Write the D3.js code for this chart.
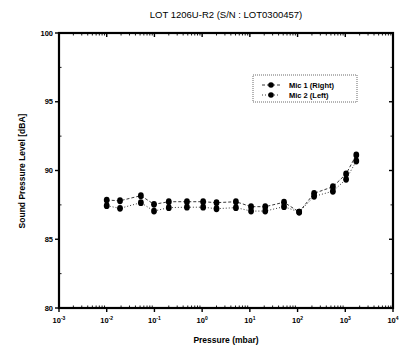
<!DOCTYPE html>
<html>
<head>
<meta charset="utf-8">
<script src="https://cdn.jsdelivr.net/npm/d3@7"></script>
<style>
  html, body { margin: 0; padding: 0; background: #fff; }
  svg { display: block; }
  text { font-family: Arial, "Liberation Sans", sans-serif; fill: #000; }
</style>
</head>
<body>
<svg id="chart" width="403" height="352"></svg>
<script>
// Pressure sweep (mbar) and measured SPL for both microphones (dBA)
const pressure = [0.01, 0.019, 0.052, 0.098, 0.2, 0.48, 1.05, 2.0, 5.1, 10.6, 21, 52, 108, 222, 550, 1040, 1700];
const mic1 = [87.85, 87.8, 88.17, 87.54, 87.73, 87.73, 87.73, 87.66, 87.73, 87.37, 87.37, 87.69, 86.98, 88.34, 88.82, 89.75, 91.13];
const mic2 = [87.44, 87.25, 87.66, 87.05, 87.3, 87.33, 87.33, 87.22, 87.3, 87.05, 87.05, 87.37, 86.98, 88.12, 88.49, 89.36, 90.69];
const seriesNames = ["Mic 1 (Right)", "Mic 2 (Left)"];
const xExponents = [-3, -2, -1, 0, 1, 2, 3, 4];
const yTicks = [80, 85, 90, 95, 100];
const yMinor = [82.5, 87.5, 92.5, 97.5];

const svg = d3.select("#chart");
const L = 59, R = 393, T = 33, B = 308;

const x = d3.scaleLog().domain([1e-3, 1e4]).range([L, R]);
const y = d3.scaleLinear().domain([80, 100]).range([B, T]);

// Minor ticks on the log axis: 2..9 within each decade
const xMinor = [];
for (let e = -3; e < 4; e++) for (let k = 2; k <= 9; k++) xMinor.push(k * Math.pow(10, e));

const g = svg.append("g");

// Frame lines
g.append("rect").attr("x", L).attr("y", T).attr("width", R - L).attr("height", B - T)
  .attr("fill", "none").attr("stroke", "#000").attr("stroke-width", 2.2);

// Bottom ticks (outward)
g.selectAll(".xb").data(xExponents).join("line")
  .attr("x1", d => x(Math.pow(10, d))).attr("x2", d => x(Math.pow(10, d)))
  .attr("y1", B).attr("y2", B + 4).attr("stroke", "#000").attr("stroke-width", 1.4);
g.selectAll(".xbm").data(xMinor).join("line")
  .attr("x1", d => x(d)).attr("x2", d => x(d))
  .attr("y1", B).attr("y2", B - 2.5).attr("stroke", "#000").attr("stroke-width", 0.9);
// Top ticks (inward)
g.selectAll(".xt").data(xExponents).join("line")
  .attr("x1", d => x(Math.pow(10, d))).attr("x2", d => x(Math.pow(10, d)))
  .attr("y1", T).attr("y2", T + 4).attr("stroke", "#000").attr("stroke-width", 1.4);
g.selectAll(".xtm").data(xMinor).join("line")
  .attr("x1", d => x(d)).attr("x2", d => x(d))
  .attr("y1", T).attr("y2", T + 2.5).attr("stroke", "#000").attr("stroke-width", 0.9);

// Left ticks (outward) and right ticks (inward)
g.selectAll(".yl").data(yTicks).join("line")
  .attr("x1", L - 4).attr("x2", L).attr("y1", d => y(d)).attr("y2", d => y(d))
  .attr("stroke", "#000").attr("stroke-width", 1.4);
g.selectAll(".ylm").data(yMinor).join("line")
  .attr("x1", L).attr("x2", L + 2.5).attr("y1", d => y(d)).attr("y2", d => y(d))
  .attr("stroke", "#000").attr("stroke-width", 0.9);
g.selectAll(".yr").data(yTicks).join("line")
  .attr("x1", R - 4).attr("x2", R).attr("y1", d => y(d)).attr("y2", d => y(d))
  .attr("stroke", "#000").attr("stroke-width", 1.4);
g.selectAll(".yrm").data(yMinor).join("line")
  .attr("x1", R - 2.5).attr("x2", R).attr("y1", d => y(d)).attr("y2", d => y(d))
  .attr("stroke", "#000").attr("stroke-width", 0.9);

// Tick labels
const xl = g.selectAll(".xlab").data(xExponents).join("text")
  .attr("x", d => x(Math.pow(10, d))).attr("y", B + 15)
  .attr("text-anchor", "middle").attr("font-size", 7.5).attr("font-weight", "bold");
xl.append("tspan").text("10");
xl.append("tspan").attr("dy", -3.5).attr("font-size", 5).text(d => d);

g.selectAll(".ylab").data(yTicks).join("text")
  .attr("x", L - 6).attr("y", d => y(d) + 2.5)
  .attr("text-anchor", "end").attr("font-size", 7.5).attr("font-weight", "bold")
  .text(d => d);

// Title and axis titles
svg.append("text").attr("x", 226).attr("y", 18).attr("text-anchor", "middle")
  .attr("font-size", 9.5).text("LOT 1206U-R2 (S/N : LOT0300457)");
svg.append("text").attr("x", 226).attr("y", 343).attr("text-anchor", "middle")
  .attr("font-size", 8.5).attr("font-weight", "bold").text("Pressure (mbar)");
svg.append("text").attr("transform", "translate(25,171) rotate(-90)")
  .attr("text-anchor", "middle").attr("font-size", 8.5).attr("font-weight", "bold")
  .text("Sound Pressure Level [dBA]");

// Series
const series = [
  { name: seriesNames[0], values: mic1, dash: "3,2" },
  { name: seriesNames[1], values: mic2, dash: "1,2" }
];
const line = d3.line().x(d => x(d[0])).y(d => y(d[1]));
series.forEach(s => {
  const pts = pressure.map((p, i) => [p, s.values[i]]);
  g.append("path").attr("d", line(pts)).attr("fill", "none")
    .attr("stroke", "#222").attr("stroke-width", 0.9).attr("stroke-dasharray", s.dash);
  g.selectAll(null).data(pts).join("ellipse")
    .attr("cx", d => x(d[0])).attr("cy", d => y(d[1]))
    .attr("rx", 2.9).attr("ry", 3.4).attr("fill", "#000");
});

// Legend
const lg = svg.append("g");
lg.append("rect").attr("x", 253).attr("y", 75).attr("width", 104).attr("height", 27)
  .attr("fill", "#fff").attr("stroke", "#444").attr("stroke-width", 0.8).attr("stroke-dasharray", "1,1");
series.forEach((s, i) => {
  const yy = 85 + i * 10;
  lg.append("line").attr("x1", 262).attr("x2", 280).attr("y1", yy).attr("y2", yy)
    .attr("stroke", "#222").attr("stroke-width", 0.9).attr("stroke-dasharray", s.dash);
  lg.append("circle").attr("cx", 271).attr("cy", yy).attr("r", 2.8).attr("fill", "#000");
  lg.append("text").attr("x", 289).attr("y", yy + 2.5).attr("font-size", 7.5)
    .attr("font-weight", "bold").text(s.name);
});
</script>
</body>
</html>
